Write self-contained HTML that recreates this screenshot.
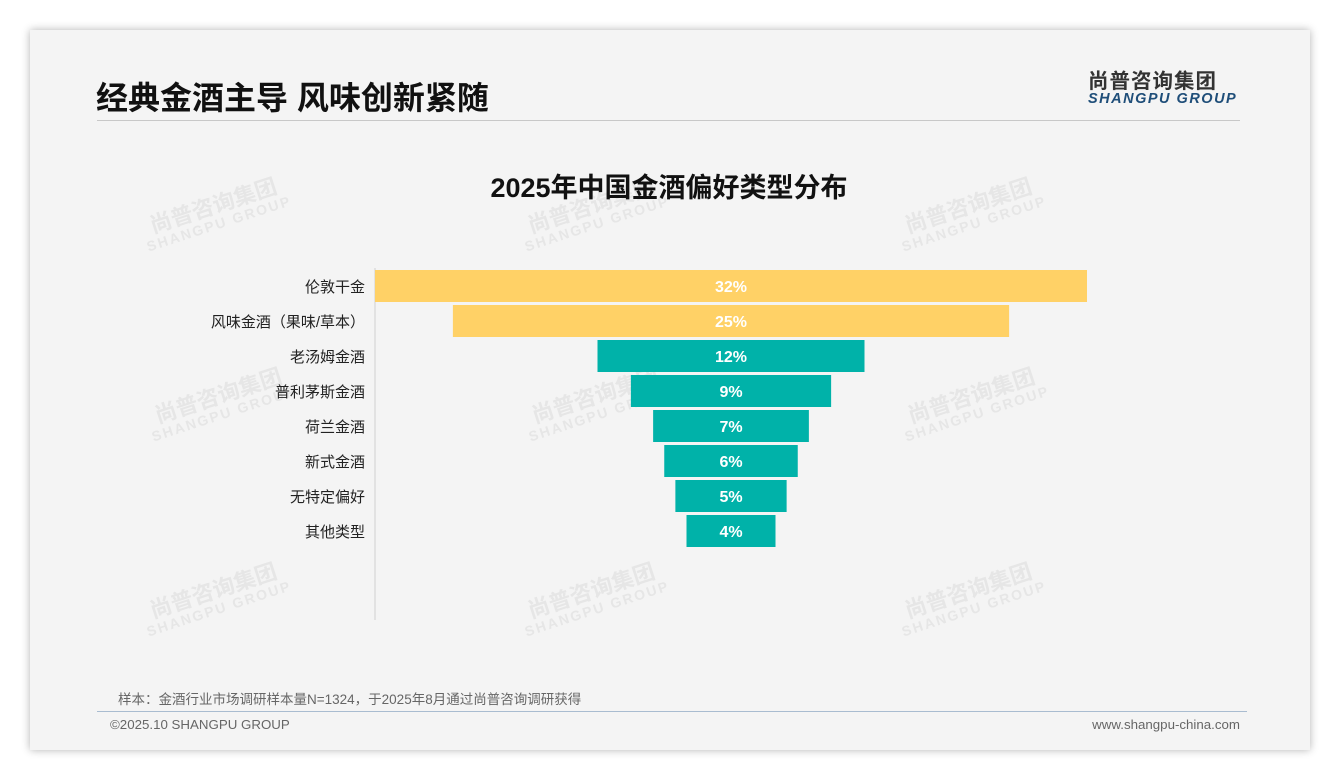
<!DOCTYPE html>
<html><head><meta charset="utf-8"><style>
body{margin:0;width:1340px;height:780px;background:#fff;font-family:"Liberation Sans","Noto Sans CJK SC",sans-serif;position:relative;overflow:hidden}
.card{position:absolute;left:30px;top:30px;width:1280px;height:720px;background:#f4f4f4;box-shadow:0 0 8px rgba(0,0,0,.3)}
.abs{position:absolute}
.wm{position:absolute;color:#e6e6e6;font-weight:bold;transform:rotate(-18deg);text-align:center;line-height:1}
</style></head><body>
<div class="card"></div>
<div id="wms"></div>
<div class="abs" style="left:96px;top:73px;font-size:32px;font-weight:bold;color:#111">经典金酒主导 风味创新紧随</div>
<div class="abs" style="left:1088px;top:64px;text-align:left">
<div style="font-size:20.5px;font-weight:bold;color:#333;letter-spacing:1px">尚普咨询集团</div>
<div style="font-size:14.5px;font-weight:bold;font-style:italic;color:#1f4e79;letter-spacing:1.5px;margin-top:-3px">SHANGPU GROUP</div></div>
<div class="abs" style="left:97px;top:120px;width:1143px;height:1px;background:#c8c8c8"></div>
<div class="abs" style="left:0;width:1338px;top:166px;text-align:center;font-size:27px;font-weight:bold;color:#111">2025年中国金酒偏好类型分布</div>
<svg class="abs" style="left:0;top:0" width="1340" height="780" id="chart"></svg>
<div class="abs" style="left:118px;top:688px;font-size:13.5px;color:#666">样本：金酒行业市场调研样本量N=1324，于2025年8月通过尚普咨询调研获得</div>
<div class="abs" style="left:97px;top:711px;width:1150px;height:1px;background:#a9bcd0"></div>
<div class="abs" style="left:110px;top:717px;font-size:13.3px;color:#666">©2025.10 SHANGPU GROUP</div>
<div class="abs" style="right:100px;top:717px;font-size:13.3px;color:#666">www.shangpu-china.com</div>
<script>
const categories=["伦敦干金","风味金酒（果味/草本）","老汤姆金酒","普利茅斯金酒","荷兰金酒","新式金酒","无特定偏好","其他类型"];
const values=[32,25,12,9,7,6,5,4];
const colors=["#ffd166","#ffd166","#00b2a9","#00b2a9","#00b2a9","#00b2a9","#00b2a9","#00b2a9"];
const NS="http://www.w3.org/2000/svg";
const svg=document.getElementById('chart');
const cx=731, unit=22.25, top0=270, pitch=35, bh=32;
const x=v=>v*unit;
const y=i=>top0+i*pitch;
const ax=document.createElementNS(NS,'line');


ax.setAttribute('x1',375);ax.setAttribute('x2',375);ax.setAttribute('y1',268);ax.setAttribute('y2',620);
ax.setAttribute('stroke','#d0d0d0');svg.appendChild(ax);
categories.forEach((c,i)=>{
 const w=x(values[i]);
 const r=document.createElementNS(NS,'rect');
 
 
 r.setAttribute('x',cx-w/2);r.setAttribute('y',y(i));r.setAttribute('width',w);r.setAttribute('height',bh);r.setAttribute('fill',colors[i]);
 svg.appendChild(r);
 const t=document.createElementNS(NS,'text');
 
 
 t.setAttribute('x',cx);t.setAttribute('y',y(i)+bh/2+6);t.setAttribute('text-anchor','middle');
 t.setAttribute('font-size','16');t.setAttribute('font-weight','bold');t.setAttribute('fill','#fff');
 t.textContent=values[i]+'%';svg.appendChild(t);
 const l=document.createElementNS(NS,'text');
 
 
 l.setAttribute('x',365);l.setAttribute('y',y(i)+bh/2+6);l.setAttribute('text-anchor','end');
 l.setAttribute('font-size','15');l.setAttribute('fill','#222');
 l.textContent=c;svg.appendChild(l);
});
const wm=document.getElementById('wms');
[[140,195],[518,195],[895,195],[145,385],[522,385],[898,385],[140,580],[518,580],[895,580]].forEach(p=>{
 const d=document.createElement('div');
 
 
 d.className='wm';d.style.left=p[0]+'px';d.style.top=p[1]+'px';
 d.innerHTML='<div style="font-size:22px">尚普咨询集团</div><div style="font-size:14px;letter-spacing:2px">SHANGPU GROUP</div>';
 wm.appendChild(d);
});
</script>
</body></html>
